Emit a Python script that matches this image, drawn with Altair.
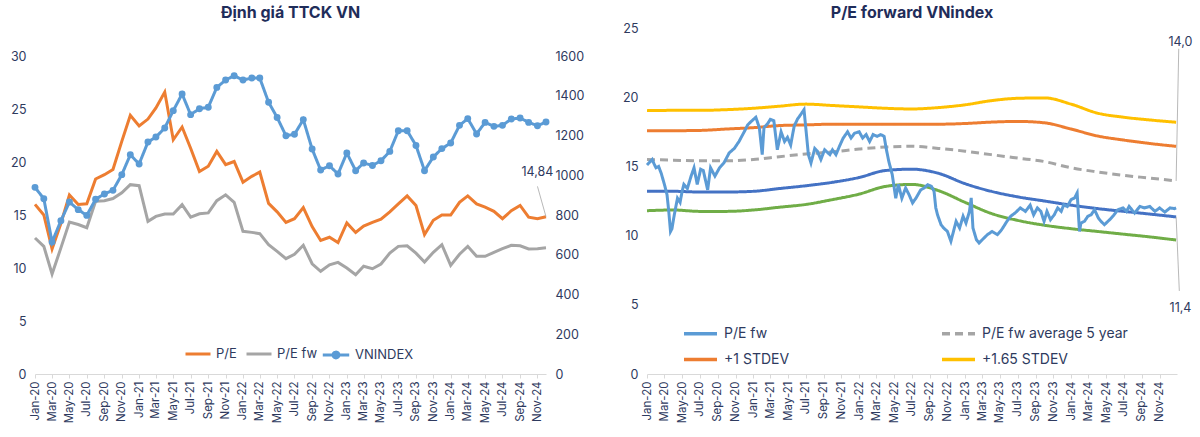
import altair as alt
import pandas as pd

# ---------------- data: left chart (monthly) ----------------
MONTHS = pd.date_range("2020-01-01", periods=60, freq="MS").strftime("%Y-%m-%d").tolist()

PE = [16.0, 15.0, 11.8, 14.2, 16.9, 16.0, 16.05, 18.4, 18.8, 19.3, 21.95, 24.4,
      23.4, 24.05, 25.1, 26.6, 22.1, 23.3, 21.3, 19.1, 19.6, 21.0, 19.75, 20.05,
      18.1, 18.65, 19.05, 16.1, 15.3, 14.3, 14.65, 15.7, 13.9, 12.6, 12.9, 12.4,
      14.25, 13.35, 13.95, 14.3, 14.6, 15.3, 16.05, 16.8, 15.9, 13.15, 14.5, 15.0,
      15.0, 16.2, 16.8, 16.05, 15.75, 15.35, 14.65, 15.4, 15.9, 14.8, 14.65, 14.84]

PE_FW = [12.83, 12.04, 9.43, 11.9, 14.34, 14.1, 13.8, 16.3, 16.35, 16.55, 17.1, 17.86,
         17.77, 14.4, 14.87, 15.1, 15.1, 15.97, 14.8, 15.12, 15.2, 16.35, 16.9, 16.2,
         13.46, 13.36, 13.24, 12.2, 11.57, 10.88, 11.3, 12.14, 10.4, 9.69, 10.3, 10.53,
         10.0, 9.37, 10.16, 9.93, 10.38, 11.4, 12.04, 12.1, 11.4, 10.57, 11.48, 12.2,
         10.25, 11.3, 12.04, 11.1, 11.1, 11.48, 11.82, 12.14, 12.1, 11.8, 11.82, 11.9]

VNINDEX = [939, 882, 664, 771, 865, 827, 798, 879, 906, 924, 1003, 1103,
           1057, 1167, 1192, 1238, 1325, 1409, 1305, 1335, 1342, 1442, 1479, 1501,
           1479, 1489, 1489, 1367, 1291, 1199, 1206, 1280, 1132, 1026, 1048, 1006,
           1112, 1023, 1062, 1049, 1073, 1120, 1224, 1224, 1150, 1023, 1092, 1134,
           1162, 1251, 1285, 1208, 1266, 1246, 1251, 1283, 1288, 1266, 1249, 1268]

LEFT_TICKS = MONTHS[0::2]

# ---------------- data: right chart ----------------
FW_DATES = [
    "2020-01-01", "2020-01-10", "2020-01-19", "2020-01-25", "2020-02-01", "2020-02-10", "2020-02-19",
    "2020-03-01", "2020-03-10", "2020-03-16", "2020-03-22", "2020-03-27", "2020-04-04", "2020-04-15",
    "2020-04-24", "2020-05-01", "2020-05-07", "2020-05-19", "2020-06-01", "2020-06-11", "2020-06-22",
    "2020-07-04", "2020-07-13", "2020-07-28", "2020-08-07", "2020-08-22", "2020-09-07", "2020-09-22",
    "2020-10-10", "2020-10-28", "2020-11-13", "2020-12-01", "2020-12-13", "2020-12-25", "2021-01-10",
    "2021-01-22", "2021-02-01", "2021-02-07", "2021-02-20", "2021-03-01", "2021-03-13", "2021-03-25",
    "2021-04-07", "2021-04-19", "2021-04-29", "2021-05-10", "2021-05-22", "2021-06-02", "2021-06-13",
    "2021-06-25", "2021-07-01", "2021-07-10", "2021-07-19", "2021-08-01", "2021-08-10", "2021-08-22",
    "2021-09-04", "2021-09-22", "2021-10-01", "2021-10-13", "2021-10-25", "2021-11-07", "2021-11-22",
    "2021-12-04", "2021-12-16", "2022-01-01", "2022-01-13", "2022-01-25", "2022-02-06", "2022-02-18",
    "2022-03-04", "2022-03-16", "2022-03-28", "2022-04-04", "2022-04-13", "2022-04-25", "2022-05-07",
    "2022-05-16", "2022-05-28", "2022-06-10", "2022-06-22", "2022-07-04", "2022-07-16", "2022-08-01",
    "2022-08-13", "2022-08-25", "2022-09-07", "2022-09-16", "2022-09-22", "2022-09-28", "2022-10-10",
    "2022-10-19", "2022-11-01", "2022-11-13", "2022-11-19", "2022-12-01", "2022-12-13", "2022-12-25",
    "2023-01-04", "2023-01-16", "2023-01-22", "2023-01-28", "2023-02-09", "2023-02-18", "2023-03-01",
    "2023-03-19", "2023-04-04", "2023-04-22", "2023-05-07", "2023-05-25", "2023-06-07", "2023-06-22",
    "2023-07-10", "2023-07-28", "2023-08-13", "2023-08-25", "2023-09-07", "2023-09-19", "2023-09-30",
    "2023-10-10", "2023-10-22", "2023-11-04", "2023-11-16", "2023-11-28", "2023-12-07", "2023-12-19",
    "2024-01-01", "2024-01-13", "2024-01-22", "2024-01-30", "2024-02-04", "2024-02-16", "2024-02-28",
    "2024-03-10", "2024-03-22", "2024-04-04", "2024-04-13", "2024-04-25", "2024-05-13", "2024-05-28",
    "2024-06-10", "2024-06-28", "2024-07-10", "2024-07-19", "2024-08-07", "2024-08-25", "2024-09-10",
    "2024-09-28", "2024-10-16", "2024-11-01", "2024-11-19", "2024-12-07", "2024-12-22", "2024-12-28"]

FW_VALUES = [
    15.1, 15.3, 15.5, 15.2, 14.9, 15.0, 14.5,
    13.7, 12.95, 11.75, 10.3, 10.5, 11.5, 12.7,
    12.4, 13.2, 13.7, 13.4, 14.3, 14.9, 13.7,
    14.8, 14.7, 13.3, 14.9, 14.3, 14.9, 15.25,
    15.97, 16.3, 16.8, 17.5, 18.0, 18.25, 18.55,
    17.8, 15.85, 17.8, 18.1, 18.4, 18.3, 16.2,
    17.5, 16.8, 17.1, 16.55, 17.9, 18.4, 18.73,
    19.1, 17.8, 15.85, 15.25, 16.3, 16.1, 15.5,
    16.2, 15.85, 16.2, 15.85, 16.45, 17.05, 17.5,
    17.05, 17.4, 17.5, 17.05, 17.3, 16.8, 17.3,
    17.17, 17.3, 17.17, 16.3, 15.37, 14.4, 12.7,
    13.7, 12.7, 13.44, 12.95, 12.36, 12.72, 13.3,
    13.44, 13.68, 13.56, 13.2, 12.0, 11.5, 10.79,
    10.55, 10.3, 9.59, 10.07, 11.03, 10.55, 11.4,
    10.91, 11.75, 12.72, 10.55, 9.7, 9.47, 9.7,
    10.07, 10.3, 10.07, 10.43, 11.03, 11.4, 11.63,
    12.0, 11.75, 12.2, 11.5, 12.0, 11.75, 11.03,
    11.75, 11.15, 11.5, 12.0, 11.75, 12.23, 12.1,
    12.6, 12.72, 13.08, 10.3, 10.91, 11.03, 11.4,
    11.5, 11.87, 11.27, 11.03, 10.79, 11.15, 11.5,
    11.87, 12.0, 11.75, 12.11, 11.63, 12.11, 12.0,
    12.11, 11.75, 12.0, 11.7, 12.0, 11.95, 12.0]

BAND_DATES = ["2020-01-01", "2020-04-01", "2020-07-01", "2020-10-01", "2021-01-01", "2021-04-01",
              "2021-07-01", "2021-10-01", "2022-01-01", "2022-04-01", "2022-07-01", "2022-10-01",
              "2023-01-01", "2023-04-01", "2023-07-01", "2023-10-01", "2024-01-01", "2024-04-01",
              "2024-07-01", "2024-10-01", "2024-12-28"]
P165 = [19.03, 19.05, 19.05, 19.1, 19.2, 19.35, 19.5, 19.4, 19.3, 19.2, 19.15, 19.25,
        19.45, 19.75, 19.92, 19.95, 19.5, 18.85, 18.55, 18.35, 18.19]
P1 = [17.58, 17.58, 17.6, 17.7, 17.8, 17.95, 18.0, 18.05, 18.05, 18.05, 18.05, 18.05,
      18.1, 18.2, 18.25, 18.15, 17.7, 17.2, 16.9, 16.65, 16.45]
AVG5 = [15.5, 15.45, 15.4, 15.4, 15.5, 15.7, 15.9, 16.05, 16.25, 16.4, 16.45, 16.3,
        16.1, 15.85, 15.6, 15.35, 14.9, 14.6, 14.35, 14.15, 13.95]
M1 = [13.2, 13.2, 13.15, 13.15, 13.2, 13.4, 13.6, 13.85, 14.2, 14.7, 14.8, 14.5,
      13.75, 13.2, 12.8, 12.5, 12.2, 11.95, 11.75, 11.55, 11.35]
M165 = [11.8, 11.85, 11.75, 11.75, 11.85, 12.05, 12.25, 12.6, 13.0, 13.55, 13.7, 13.25,
        12.4, 11.6, 11.1, 10.75, 10.5, 10.3, 10.1, 9.9, 9.68]

RIGHT_TICKS = MONTHS[0::2]

SERIES_R = ["P/E fw", "P/E fw average 5 year", "+1 STDEV", "+1.65 STDEV", "-1 STDEV", "-1.65 STDEV"]
LEGEND_R = ["P/E fw", "+1 STDEV", "P/E fw average 5 year", "+1.65 STDEV"]

# ---------------- styles ----------------
FONT = "Inter"
NAVY = "#1F2D5A"
TXT = "#2E3A5E"
BLUE = "#5B9BD5"
ORANGE = "#ED7D31"
GRAY = "#A5A5A5"
YELLOW = "#FFC000"
DBLUE = "#4472C4"
GREEN = "#70AD47"
AXIS_GRAY = "#D9D9D9"


def dt(s):
    y, m, d = (int(v) for v in s.split("-"))
    return alt.DateTime(year=y, month=m, date=d, utc=True)


def x_axis(ticks):
    return alt.Axis(values=[dt(s) for s in ticks], labelExpr="utcFormat(datum.value, '%b-%y')",
                    labelAngle=270, labelAlign="right", labelBaseline="middle",
                    labelFontSize=11.5, labelColor=TXT, labelFont=FONT, labelPadding=3,
                    grid=False, domainColor=AXIS_GRAY, domainWidth=1.2,
                    tickColor=AXIS_GRAY, tickSize=4, labelOverlap=False, labelFlush=False)


def y_axis(vals, orient="left"):
    return alt.Axis(orient=orient, values=vals, format="d", grid=False, domain=False, ticks=False,
                    labelPadding=9, labelFontSize=12.5, labelColor=TXT, labelFont=FONT)


XL_AXIS = x_axis(LEFT_TICKS)
XR_AXIS = x_axis(RIGHT_TICKS)
YL_AXIS = y_axis([0, 5, 10, 15, 20, 25, 30])
YV_AXIS = y_axis(list(range(0, 1601, 200)), "right")
YR_AXIS = y_axis([0, 5, 10, 15, 20, 25])

# ---------------- left chart ----------------
left_df = pd.DataFrame({"date": MONTHS * 2, "value": PE + PE_FW,
                        "series": ["P/E"] * 60 + ["P/E fw"] * 60})
vn_df = pd.DataFrame({"date": MONTHS, "value": VNINDEX, "lbl": ["VNINDEX"] * 60})

# plot area is 346 px tall (same top as the right panel); the 0-30 / 0-1600 ticks occupy the lower 318 px
xl_scale = alt.Scale(type="utc", domain=[dt(MONTHS[0]), dt(MONTHS[-1])])
yl_scale = alt.Scale(domain=[0, 30 * 346 / 318], nice=False, zero=True)
yv_scale = alt.Scale(domain=[0, 1600 * 346 / 318], nice=False, zero=True)

pe_lines = alt.Chart(left_df).mark_line(strokeWidth=3).encode(
    x=alt.X("date:T", scale=xl_scale, axis=XL_AXIS, title=None),
    y=alt.Y("value:Q", scale=yl_scale, axis=YL_AXIS, title=None),
    color=alt.Color("series:N", scale=alt.Scale(domain=["P/E", "P/E fw"], range=[ORANGE, GRAY]),
                    legend=alt.Legend(orient="none", legendX=149, legendY=312, direction="horizontal",
                                      title=None, symbolType="stroke", symbolStrokeWidth=3,
                                      symbolSize=625, labelFontSize=13, labelColor=TXT,
                                      labelFont=FONT, padding=0, columnPadding=3, labelOffset=4)),
)

ann_l = pd.DataFrame({"date": ["2024-11-01"], "date2": ["2024-12-01"], "value": [17.7], "y2": [14.84],
                      "ty": [18.4], "label": ["14,84"]})
ann_l_rule = alt.Chart(ann_l).mark_rule(color="#A6A6A6", strokeWidth=0.8).encode(
    x=alt.X("date:T", scale=xl_scale, axis=XL_AXIS, title=None), x2="date2:T",
    y=alt.Y("value:Q", scale=yl_scale, axis=YL_AXIS, title=None), y2="y2:Q")
ann_l_text = alt.Chart(ann_l).mark_text(font=FONT, fontSize=12.5, color=TXT, baseline="bottom").encode(
    x=alt.X("date:T", scale=xl_scale, axis=XL_AXIS, title=None),
    y=alt.Y("ty:Q", scale=yl_scale, axis=YL_AXIS, title=None), text="label:N")

vn_line = alt.Chart(vn_df).mark_line(strokeWidth=3, color=BLUE).encode(
    x=alt.X("date:T", scale=xl_scale, axis=XL_AXIS, title=None),
    y=alt.Y("value:Q", scale=yv_scale, axis=YV_AXIS, title=None),
    strokeDash=alt.StrokeDash("lbl:N", scale=alt.Scale(domain=["VNINDEX"], range=[[1, 0]]),
                              legend=alt.Legend(orient="none", legendX=286, legendY=312, title=None,
                                                symbolType="M-1,0H1M0.22,0A0.22,0.22,0,1,1,-0.22,0A0.22,0.22,0,1,1,0.22,0Z",
                                                symbolStrokeColor=BLUE, symbolFillColor=BLUE,
                                                symbolStrokeWidth=3, symbolSize=700, labelFontSize=13,
                                                labelColor=TXT, labelFont=FONT, padding=0, labelOffset=4)),
)
vn_pts = alt.Chart(vn_df).mark_circle(size=48, color=BLUE, opacity=1).encode(
    x=alt.X("date:T", scale=xl_scale, axis=XL_AXIS, title=None),
    y=alt.Y("value:Q", scale=yv_scale, axis=YV_AXIS, title=None),
)

left = alt.layer(
    alt.layer(pe_lines, ann_l_rule, ann_l_text),
    alt.layer(vn_line, vn_pts),
).resolve_scale(y="independent", color="independent", strokeDash="independent").properties(
    width=511, height=346,
    title=alt.TitleParams("Định giá TTCK VN", fontSize=16, fontWeight="bold", color=NAVY,
                          font=FONT, offset=7),
)

# ---------------- right chart ----------------
band_rows = []
for name, vals in [("+1.65 STDEV", P165), ("+1 STDEV", P1), ("P/E fw average 5 year", AVG5),
                   ("-1 STDEV", M1), ("-1.65 STDEV", M165)]:
    for d, v in zip(BAND_DATES, vals):
        band_rows.append({"date": d, "value": v, "series": name})
band_df = pd.DataFrame(band_rows)
fw_df = pd.DataFrame({"date": FW_DATES, "value": FW_VALUES, "series": ["P/E fw"] * len(FW_DATES)})

xr_scale = alt.Scale(type="utc", domain=[dt("2020-01-01"), dt("2024-12-31")])
yr_scale = alt.Scale(domain=[0, 25])

legend_r = alt.Legend(orient="none", legendX=35, legendY=287, columns=2, title=None,
                      values=LEGEND_R, symbolType="stroke", symbolStrokeWidth=3.5,
                      symbolSize=1089, labelFontSize=14, labelColor=TXT, labelFont=FONT,
                      padding=0, columnPadding=145, rowPadding=-11, labelOffset=5)
color_r = alt.Color("series:N", scale=alt.Scale(domain=SERIES_R,
                                                range=[BLUE, GRAY, ORANGE, YELLOW, DBLUE, GREEN]),
                    legend=legend_r)
dash_r = alt.StrokeDash("series:N", scale=alt.Scale(domain=SERIES_R,
                                                    range=[[1, 0], [8, 5], [1, 0], [1, 0], [1, 0], [1, 0]]),
                        legend=legend_r)

bands = alt.Chart(band_df).mark_line(strokeWidth=3, interpolate="monotone").encode(
    x=alt.X("date:T", scale=xr_scale, axis=XR_AXIS, title=None),
    y=alt.Y("value:Q", scale=yr_scale, axis=YR_AXIS, title=None),
    color=color_r, strokeDash=dash_r, detail="series:N")
fw_line = alt.Chart(fw_df).mark_line(strokeWidth=3).encode(
    x=alt.X("date:T", scale=xr_scale, axis=XR_AXIS, title=None),
    y=alt.Y("value:Q", scale=yr_scale, axis=YR_AXIS, title=None),
    color=color_r, strokeDash=dash_r)

ann_r = pd.DataFrame({"date": ["2025-01-06", "2025-01-08"], "date2": ["2024-12-28", "2024-12-28"],
                      "value": [23.5, 6.0], "y2": [13.95, 11.35],
                      "tdate": ["2025-01-12", "2025-01-12"], "ty": [24.0, 4.8],
                      "label": ["14,0", "11,4"]})
ann_r_rule = alt.Chart(ann_r).mark_rule(color="#A6A6A6", strokeWidth=0.8).encode(
    x=alt.X("date:T", scale=xr_scale, axis=XR_AXIS, title=None), x2="date2:T",
    y=alt.Y("value:Q", scale=yr_scale, axis=YR_AXIS, title=None), y2="y2:Q")
ann_r_text = alt.Chart(ann_r).mark_text(font=FONT, fontSize=12.5, color=TXT, baseline="middle").encode(
    x=alt.X("tdate:T", scale=xr_scale, axis=XR_AXIS, title=None),
    y=alt.Y("ty:Q", scale=yr_scale, axis=YR_AXIS, title=None),
    text="label:N")

right = alt.layer(bands, fw_line, ann_r_rule, ann_r_text).properties(
    width=530, height=346,
    title=alt.TitleParams("P/E forward VNindex", fontSize=16, fontWeight="bold", color=NAVY,
                          font=FONT, offset=1),
)

chart = alt.hconcat(left, right, spacing=38).resolve_scale(
    color="independent", strokeDash="independent", x="independent", y="independent"
).resolve_legend(color="independent", strokeDash="independent").configure(
    padding={"left": 10, "top": 5, "right": 4, "bottom": 2},
    font=FONT,
).configure_view(stroke=None)

chart.save("out.html", embed_options={"renderer": "svg", "actions": False})
